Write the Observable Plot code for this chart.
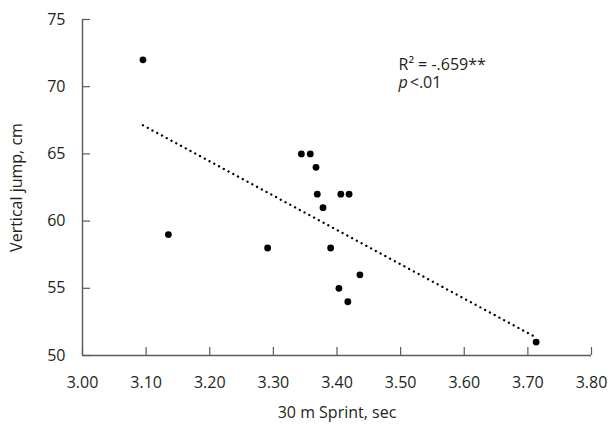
<!DOCTYPE html>
<html>
<head>
<meta charset="utf-8">
<script src="https://cdn.jsdelivr.net/npm/d3@7"></script>
<script src="https://cdn.jsdelivr.net/npm/@observablehq/plot@0.6"></script>
<style>
  html, body { margin: 0; padding: 0; background: #fff; }
  #chart { width: 611px; height: 429px; }
</style>
</head>
<body>
<div id="chart"></div>
<script>
// Data
const sprint = [3.095, 3.135, 3.291, 3.344, 3.358, 3.367, 3.369, 3.378, 3.390, 3.403, 3.406, 3.417, 3.419, 3.436, 3.713];
const jump   = [72,    59,    58,    65,    65,    64,    62,    61,    58,    55,    62,    54,    62,    56,    51];
const trendX = [3.095, 3.71];
const trendY = [67.13, 51.42];
const xTicks = [3.0, 3.1, 3.2, 3.3, 3.4, 3.5, 3.6, 3.7, 3.8];
const yTicks = [50, 55, 60, 65, 70, 75];
const xTitle = "30 m Sprint, sec";
const yTitle = "Vertical jump, cm";
const annR = "R² = -.659**";
const annP = ["p", "<.01"];

const points = sprint.map((x, i) => ({x, y: jump[i]}));
const trend = trendX.map((x, i) => ({x, y: trendY[i]}));

const W = 611, H = 429, mL = 82, mR = 20, mT = 19, mB = 74;
const tickLen = 8;
const axisColor = "#5a5a5a";
const textColor = "#231f20";
const font = "'Open Sans', sans-serif";

const chart = Plot.plot({
  width: W,
  height: H,
  marginLeft: mL,
  marginRight: mR,
  marginTop: mT,
  marginBottom: mB,
  style: {fontFamily: font, fontSize: "16px", color: textColor, background: "#fff"},
  x: {domain: [3.0, 3.8]},
  y: {domain: [50, 75]},
  marks: [
    // axis lines
    Plot.ruleY([50], {stroke: axisColor, strokeWidth: 1.4}),
    Plot.ruleX([3.0], {stroke: axisColor, strokeWidth: 1.4}),
    // inward ticks
    Plot.ruleX(xTicks, {x: d => d, insetTop: (H - mT - mB) - tickLen, stroke: axisColor, strokeWidth: 1.2}),
    Plot.ruleY(yTicks, {y: d => d, insetRight: (W - mL - mR) - tickLen, stroke: axisColor, strokeWidth: 1.2}),
    // tick labels
    Plot.axisX({ticks: xTicks, tickSize: 0, tickPadding: 21, tickFormat: d3.format(".2f"),
      fill: textColor, fontSize: 16, label: xTitle, labelAnchor: "center", labelOffset: 62, labelArrow: "none"}),
    Plot.axisY({ticks: yTicks, tickSize: 0, tickPadding: 17, tickFormat: d3.format("d"),
      fill: textColor, fontSize: 16, label: yTitle, labelAnchor: "center", labelOffset: 72, labelArrow: "none"}),
    // trend line
    Plot.line(trend, {x: "x", y: "y", stroke: "#000", strokeWidth: 2.3, strokeDasharray: "0.1 5.3", strokeLinecap: "round"}),
    // points
    Plot.dot(points, {x: "x", y: "y", r: 3.4, fill: "#000", stroke: null}),
    // annotation
    Plot.text([annR], {frameAnchor: "top-left", dx: 316, dy: 50, text: d => d, textAnchor: "start", lineAnchor: "bottom", fontSize: 16, fill: textColor}),
    Plot.text([annP.join("")], {frameAnchor: "top-left", dx: 316, dy: 68, text: d => d, textAnchor: "start", lineAnchor: "bottom", fontSize: 16, fill: textColor, className: "ann-p"})
  ]
});
// italicise the "p" while keeping the annotation one real text element
chart.querySelectorAll(".ann-p text").forEach(t => {
  t.textContent = "";
  const a = document.createElementNS("http://www.w3.org/2000/svg", "tspan");
  a.setAttribute("font-style", "italic");
  a.textContent = annP[0];
  const b = document.createElementNS("http://www.w3.org/2000/svg", "tspan");
  b.setAttribute("dx", "2");
  b.textContent = annP[1];
  t.appendChild(a);
  t.appendChild(b);
});
document.getElementById("chart").appendChild(chart);
</script>
</body>
</html>
